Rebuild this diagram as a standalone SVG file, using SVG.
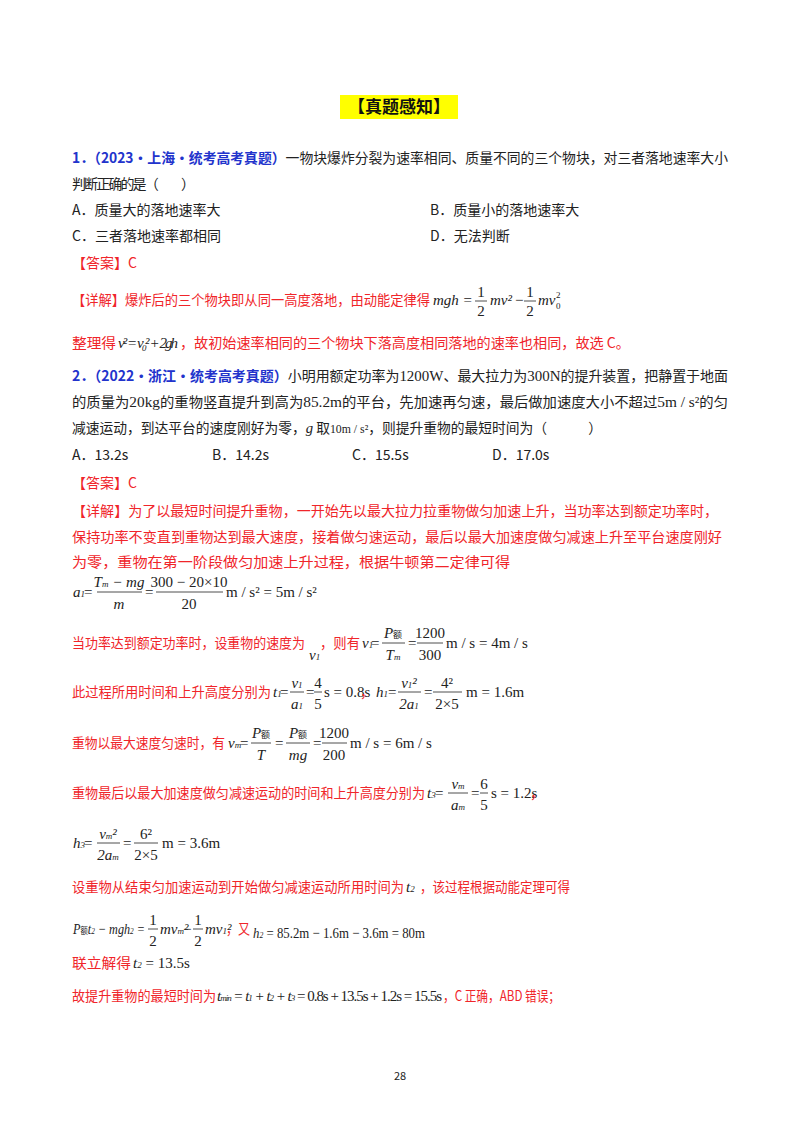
<svg xmlns="http://www.w3.org/2000/svg" width="800" height="1132" viewBox="0 0 800 1132">
<style>
text{font-family:"Noto Sans CJK SC","Liberation Sans",sans-serif;font-size:14px;fill:#222}
.r{fill:#f0252a}
.b{fill:#2233cc;font-weight:bold}
.m{font-family:"Liberation Serif","Noto Sans CJK SC",serif;font-style:italic;font-size:15px}
.n{font-family:"Liberation Serif","Noto Sans CJK SC",serif;font-size:15px}
.rm{fill:#222}
.s{font-size:9px}
.f{text-anchor:middle}
line{stroke:#222;stroke-width:0.8}
</style>
<rect width="800" height="1132" fill="#fff"/>
<rect x="340" y="95" width="118" height="24" fill="#ffff00"/>
<text x="399" y="113" text-anchor="middle" style="font-size:17px;font-weight:bold;fill:#111">【真题感知】</text>

<g id="q1">
<text x="72" y="163" textLength="656" lengthAdjust="spacingAndGlyphs"><tspan class="b">1．（2023·上海·统考高考真题）</tspan>一物块爆炸分裂为速率相同、质量不同的三个物块，对三者落地速率大小</text>
<text x="72" y="189" textLength="123" lengthAdjust="spacing">判断正确的是（　　）</text>
<text x="72" y="215">A．质量大的落地速率大</text>
<text x="430" y="215">B．质量小的落地速率大</text>
<text x="72" y="241">C．三者落地速率都相同</text>
<text x="430" y="241">D．无法判断</text>
<text x="72" y="268" class="r">【答案】C</text>

<text x="72" y="305" class="r" textLength="358" lengthAdjust="spacingAndGlyphs">【详解】爆炸后的三个物块即从同一高度落地，由动能定律得</text>
<text x="433" y="305" class="m">mgh =</text>
<text x="481" y="297" class="n f">1</text><line x1="475" y1="301" x2="487" y2="301"/><text x="481" y="316" class="n f">2</text>
<text x="490" y="305" class="m">mv²</text>
<text x="515" y="305" class="n">−</text>
<text x="530" y="297" class="n f">1</text><line x1="524" y1="301" x2="536" y2="301"/><text x="530" y="316" class="n f">2</text>
<text x="538" y="305" class="m">mv</text><text x="556" y="309" class="n s">0</text><text x="556" y="298" class="n s">2</text>

<text x="72" y="348" class="r" textLength="44" lengthAdjust="spacingAndGlyphs">整理得</text>
<text x="118" y="348" class="m" textLength="60" lengthAdjust="spacing">v² = v₀² + 2gh</text>
<text x="180" y="348" class="r" textLength="450" lengthAdjust="spacingAndGlyphs">，故初始速率相同的三个物块下落高度相同落地的速率也相同，故选 C。</text>
</g>

<g id="q2">
<text x="72" y="381" textLength="656" lengthAdjust="spacingAndGlyphs"><tspan class="b">2．（2022·浙江·统考高考真题）</tspan>小明用额定功率为<tspan class="n">1200W</tspan>、最大拉力为<tspan class="n">300N</tspan>的提升装置，把静置于地面</text>
<text x="72" y="407" textLength="656" lengthAdjust="spacingAndGlyphs">的质量为<tspan class="n">20kg</tspan>的重物竖直提升到高为<tspan class="n">85.2m</tspan>的平台，先加速再匀速，最后做加速度大小不超过<tspan class="n">5m / s²</tspan>的匀</text>
<text x="72" y="433" textLength="530" lengthAdjust="spacingAndGlyphs">减速运动，到达平台的速度刚好为零，<tspan class="m">g</tspan> 取<tspan class="n" style="font-size:12px">10m / s²</tspan>，则提升重物的最短时间为（　　　）</text>
<text x="72" y="460">A．13.2s</text>
<text x="212" y="460">B．14.2s</text>
<text x="352" y="460">C．15.5s</text>
<text x="492" y="460">D．17.0s</text>
<text x="72" y="488" class="r">【答案】C</text>
<text x="72" y="516" class="r" textLength="646" lengthAdjust="spacingAndGlyphs">【详解】为了以最短时间提升重物，一开始先以最大拉力拉重物做匀加速上升，当功率达到额定功率时，</text>
<text x="72" y="542" class="r" textLength="650" lengthAdjust="spacingAndGlyphs">保持功率不变直到重物达到最大速度，接着做匀速运动，最后以最大加速度做匀减速上升至平台速度刚好</text>
<text x="72" y="567" class="r" textLength="438" lengthAdjust="spacingAndGlyphs">为零，重物在第一阶段做匀加速上升过程，根据牛顿第二定律可得</text>
</g>

<g id="formulas">
<text x="73" y="597" class="m">a<tspan class="s">1</tspan></text><text x="84" y="597" class="n">=</text>
<text x="119" y="587" class="m f">T<tspan class="s">m</tspan> − mg</text><line x1="97" y1="592" x2="142" y2="592"/><text x="119" y="609" class="m f">m</text>
<text x="145" y="597" class="n">=</text>
<text x="189" y="587" class="n f">300 − 20×10</text><line x1="156" y1="592" x2="223" y2="592"/><text x="189" y="609" class="n f">20</text>
<text x="226" y="597" class="n">m / s² = 5m / s²</text>

<text x="72" y="648" class="r" textLength="233" lengthAdjust="spacingAndGlyphs">当功率达到额定功率时，设重物的速度为</text>
<text x="309" y="660" class="m">v<tspan class="s">1</tspan></text>
<text x="320" y="648" class="r" textLength="40" lengthAdjust="spacingAndGlyphs">，则有</text>
<text x="362" y="648" class="m">v<tspan class="s">1</tspan></text><text x="371" y="648" class="n">=</text>
<text x="393" y="638" class="m f">P<tspan class="s" style="font-style:normal">额</tspan></text><line x1="382" y1="643" x2="405" y2="643"/><text x="393" y="660" class="m f">T<tspan class="s">m</tspan></text>
<text x="408" y="648" class="n">=</text>
<text x="430" y="638" class="n f">1200</text><line x1="417" y1="643" x2="443" y2="643"/><text x="430" y="660" class="n f">300</text>
<text x="446" y="648" class="n">m / s = 4m / s</text>

<text x="72" y="697" class="r" textLength="199" lengthAdjust="spacingAndGlyphs">此过程所用时间和上升高度分别为</text>
<text x="273" y="697" class="m">t<tspan class="s">1</tspan></text><text x="280" y="697" class="n">=</text>
<text x="297" y="688" class="m f">v<tspan class="s">1</tspan></text><line x1="290" y1="692" x2="304" y2="692"/><text x="297" y="709" class="m f">a<tspan class="s">1</tspan></text>
<text x="306" y="697" class="n">=</text>
<text x="318" y="688" class="n f">4</text><line x1="314" y1="692" x2="322" y2="692"/><text x="318" y="709" class="n f">5</text>
<text x="324" y="697" class="n">s = 0.8s</text>
<text x="360" y="697" class="r">，</text>
<text x="376" y="697" class="m">h<tspan class="s">1</tspan></text><text x="388" y="697" class="n">=</text>
<text x="409" y="688" class="m f">v<tspan class="s">1</tspan>²</text><line x1="398" y1="692" x2="421" y2="692"/><text x="409" y="709" class="m f">2a<tspan class="s">1</tspan></text>
<text x="424" y="697" class="n">=</text>
<text x="447" y="688" class="n f">4²</text><line x1="433" y1="692" x2="462" y2="692"/><text x="447" y="709" class="n f">2×5</text>
<text x="466" y="697" class="n">m = 1.6m</text>

<text x="72" y="748" class="r" textLength="153" lengthAdjust="spacingAndGlyphs">重物以最大速度匀速时，有</text>
<text x="228" y="748" class="m">v<tspan class="s">m</tspan></text><text x="240" y="748" class="n">=</text>
<text x="261" y="738" class="m f">P<tspan class="s" style="font-style:normal">额</tspan></text><line x1="251" y1="743" x2="271" y2="743"/><text x="261" y="760" class="m f">T</text>
<text x="275" y="748" class="n">=</text>
<text x="298" y="738" class="m f">P<tspan class="s" style="font-style:normal">额</tspan></text><line x1="286" y1="743" x2="310" y2="743"/><text x="298" y="760" class="m f">mg</text>
<text x="313" y="748" class="n">=</text>
<text x="334" y="738" class="n f">1200</text><line x1="322" y1="743" x2="347" y2="743"/><text x="334" y="760" class="n f">200</text>
<text x="350" y="748" class="n">m / s = 6m / s</text>

<text x="72" y="798" class="r" textLength="353" lengthAdjust="spacingAndGlyphs">重物最后以最大加速度做匀减速运动的时间和上升高度分别为</text>
<text x="427" y="798" class="m">t<tspan class="s">3</tspan></text><text x="435" y="798" class="n">=</text>
<text x="458" y="789" class="m f">v<tspan class="s">m</tspan></text><line x1="448" y1="793" x2="468" y2="793"/><text x="458" y="810" class="m f">a<tspan class="s">m</tspan></text>
<text x="471" y="798" class="n">=</text>
<text x="484" y="789" class="n f">6</text><line x1="480" y1="793" x2="488" y2="793"/><text x="484" y="810" class="n f">5</text>
<text x="491" y="798" class="n">s = 1.2s</text>
<text x="530" y="798" class="r">，</text>

<text x="73" y="848" class="m">h<tspan class="s">3</tspan></text><text x="84" y="848" class="n">=</text>
<text x="108" y="839" class="m f">v<tspan class="s">m</tspan>²</text><line x1="97" y1="843" x2="120" y2="843"/><text x="108" y="860" class="m f">2a<tspan class="s">m</tspan></text>
<text x="123" y="848" class="n">=</text>
<text x="146" y="839" class="n f">6²</text><line x1="134" y1="843" x2="158" y2="843"/><text x="146" y="860" class="n f">2×5</text>
<text x="162" y="848" class="n">m = 3.6m</text>

<text x="72" y="892" class="r" textLength="332" lengthAdjust="spacingAndGlyphs">设重物从结束匀加速运动到开始做匀减速运动所用时间为</text>
<text x="406" y="892" class="m">t<tspan class="s">2</tspan></text>
<text x="420" y="892" class="r" textLength="150" lengthAdjust="spacingAndGlyphs">，该过程根据动能定理可得</text>

<text x="73" y="934" class="m" textLength="72" lengthAdjust="spacingAndGlyphs">P<tspan class="s" style="font-style:normal">额</tspan>t<tspan class="s">2</tspan> − mgh<tspan class="s">2</tspan> =</text>
<text x="153" y="925" class="n f">1</text><line x1="148" y1="929" x2="158" y2="929"/><text x="153" y="946" class="n f">2</text>
<text x="160" y="934" class="m">mv<tspan class="s">m</tspan>²</text>
<text x="183" y="934" class="n">−</text>
<text x="198" y="925" class="n f">1</text><line x1="193" y1="929" x2="203" y2="929"/><text x="198" y="946" class="n f">2</text>
<text x="205" y="934" class="m">mv<tspan class="s">1</tspan>²</text>
<text x="226" y="934" class="r" textLength="24" lengthAdjust="spacingAndGlyphs">，又</text>
<text x="253" y="938" class="m" textLength="172" lengthAdjust="spacingAndGlyphs">h<tspan class="s">2</tspan> <tspan style="font-style:normal">= 85.2m − 1.6m − 3.6m = 80m</tspan></text>

<text x="72" y="968" class="r" textLength="59" lengthAdjust="spacingAndGlyphs">联立解得</text>
<text x="133" y="968" class="m">t<tspan class="s">2</tspan> <tspan style="font-style:normal">= 13.5s</tspan></text>

<text x="72" y="1001" class="r" textLength="144" lengthAdjust="spacingAndGlyphs">故提升重物的最短时间为</text>
<text x="217" y="1001" class="m" textLength="225" lengthAdjust="spacing">t<tspan class="s">min</tspan> = t<tspan class="s">1</tspan> + t<tspan class="s">2</tspan> + t<tspan class="s">3</tspan> <tspan style="font-style:normal">= 0.8s + 13.5s + 1.2s = 15.5s</tspan></text>
<text x="443" y="1001" class="r" textLength="117" lengthAdjust="spacingAndGlyphs">，C 正确，ABD 错误；</text>
</g>

<text x="400" y="1080" text-anchor="middle" style="font-size:11px">28</text>
</svg>
